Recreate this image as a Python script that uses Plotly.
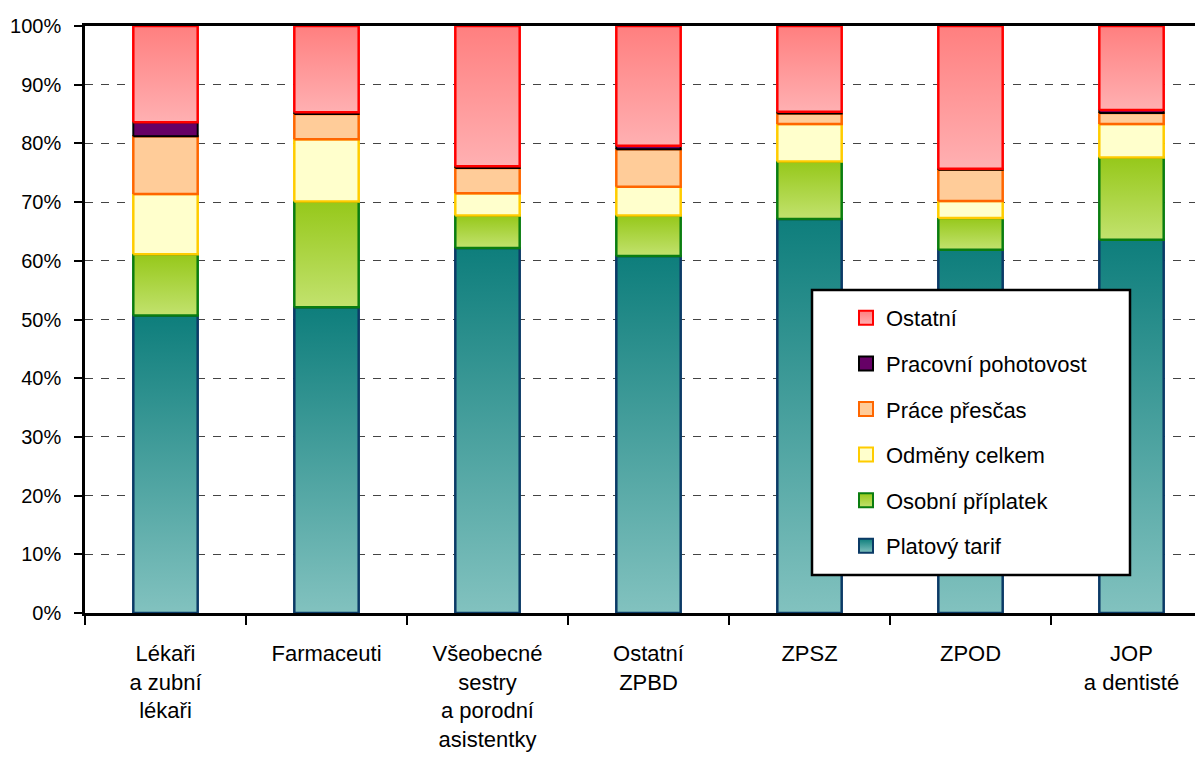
import plotly.graph_objects as go

categories = ["Lékaři<br>a zubní<br>lékaři", "Farmaceuti",
              "Všeobecné<br>sestry<br>a porodní<br>asistentky",
              "Ostatní<br>ZPBD", "ZPSZ", "ZPOD", "JOP<br>a dentisté"]

platovy_tarif = [50.7, 52.1, 62.2, 60.8, 67.1, 61.9, 63.6]
osobni_priplatek = [10.4, 18.0, 5.5, 6.9, 9.8, 5.4, 14.0]
odmeny_celkem = [10.3, 10.6, 3.8, 4.9, 6.4, 2.9, 5.7]
prace_prescas = [9.8, 4.3, 4.3, 6.4, 1.8, 5.3, 1.9]
pracovni_pohotovost = [2.4, 0.3, 0.3, 0.6, 0.3, 0.2, 0.5]
ostatni = [16.4, 14.7, 23.9, 20.4, 14.6, 24.3, 14.3]

y_ticks = [0, 10, 20, 30, 40, 50, 60, 70, 80, 90, 100]
y_tick_labels = ["0%", "10%", "20%", "30%", "40%", "50%",
                 "60%", "70%", "80%", "90%", "100%"]

# (name, values, top colour, bottom colour, border colour, border width)
series = [
    ("Platový tarif", platovy_tarif, "#0e7e7c", "#82c2bf", "#0b3a66", 2.5),
    ("Osobní příplatek", osobni_priplatek, "#96c81a", "#c2e26e", "#0a7d10", 2.5),
    ("Odměny celkem", odmeny_celkem, "#ffffcc", "#ffffcc", "#ffcc00", 2.5),
    ("Práce přesčas", prace_prescas, "#ffcc99", "#ffcc99", "#ff6600", 2.5),
    ("Pracovní pohotovost", pracovni_pohotovost, "#660066", "#660066", "#000000", 2.0),
    ("Ostatní", ostatni, "#ff7f7f", "#ffb0b2", "#ff0000", 2.5),
]

FONT = "Liberation Sans Narrow, Arial Narrow, Liberation Sans, Arial, sans-serif"
FS = 22
half_w = 0.2

fig = go.Figure()
n = len(categories)
base = [0.0] * n
for j, (name, vals, ctop, cbot, cline, lw) in enumerate(series):
    for i in range(n):
        b = base[i]
        t = b + vals[i]
        xs = [i - half_w, i + half_w, i + half_w, i - half_w, i - half_w]
        ys = [b, b, t, t, b]
        kw = dict(fillcolor=ctop)
        if ctop != cbot:
            kw = dict(fillgradient=dict(type="vertical",
                                        colorscale=[[0, cbot], [1, ctop]]))
        fig.add_trace(go.Scatter(
            x=xs, y=ys, mode="lines", fill="toself",
            line=dict(color=cline, width=lw),
            showlegend=False, hoverinfo="skip", **kw))
        base[i] = t

# legend entries (top to bottom: Ostatní ... Platový tarif)
for rank, (name, vals, ctop, cbot, cline, lw) in enumerate(reversed(series)):
    fig.add_trace(go.Scatter(
        x=[None], y=[None], mode="markers", name=name,
        legendgroup=name, legendrank=rank + 1,
        marker=dict(symbol="square", size=14, color=ctop,
                    gradient=dict(type="vertical", color=cbot),
                    line=dict(color=cline, width=2))))

# page has an 8px body margin: figure occupies 8..1203 x 8..764
W, H = 1195, 756
L, T, B = 77, 18, 151
PX0 = 85            # page x of plot left edge
plot_w = W - L      # 1118
plot_h = H - T - B  # 587
cat_px = 161.0
x_max = -0.5 + plot_w / cat_px

def px_x(p):
    return (p - PX0) / plot_w

def px_y(p):
    return (613 - p) / plot_h

fig.update_layout(
    width=W, height=H,
    margin=dict(l=L, r=0, t=T, b=B, pad=0, autoexpand=False),
    paper_bgcolor="white", plot_bgcolor="white",
    font=dict(family=FONT, size=FS, color="black"),
    showlegend=True,
    legend=dict(
        x=px_x(846), xanchor="left",
        y=px_y(297), yanchor="top",
        bgcolor="rgba(0,0,0,0)", borderwidth=0,
        traceorder="grouped", tracegroupgap=14,
        itemsizing="trace",
        font=dict(family=FONT, size=FS, color="black"),
    ),
    xaxis=dict(
        range=[-0.5, x_max], showgrid=False, zeroline=False,
        automargin=False,
        tickmode="array", tickvals=list(range(n)), ticktext=categories,
        ticks="", showline=True, linecolor="black", linewidth=2.5,
        mirror=True, tickfont=dict(family=FONT, size=FS),
        minor=dict(tickmode="array",
                   tickvals=[k - 0.5 for k in range(n + 1)],
                   ticks="outside", ticklen=9, tickwidth=2,
                   tickcolor="black", showgrid=False),
        ticklabelstandoff=19,
    ),
    yaxis=dict(
        range=[0, 100], tickmode="array", tickvals=y_ticks,
        automargin=False,
        ticktext=y_tick_labels, ticks="outside", ticklen=8, tickwidth=2,
        tickcolor="black", showline=True, linecolor="black",
        linewidth=2.5, zeroline=False,
        showgrid=True, gridcolor="#444444", gridwidth=1,
        griddash="8px,8px", tickfont=dict(family=FONT, size=20),
        ticklabelstandoff=9,
    ),
    shapes=[dict(type="rect", xref="paper", yref="paper",
                 x0=px_x(812), x1=px_x(1130),
                 y0=px_y(575), y1=px_y(290),
                 fillcolor="white", line=dict(color="black", width=2.5),
                 layer="above")],
)

fig.write_html("out.html")
